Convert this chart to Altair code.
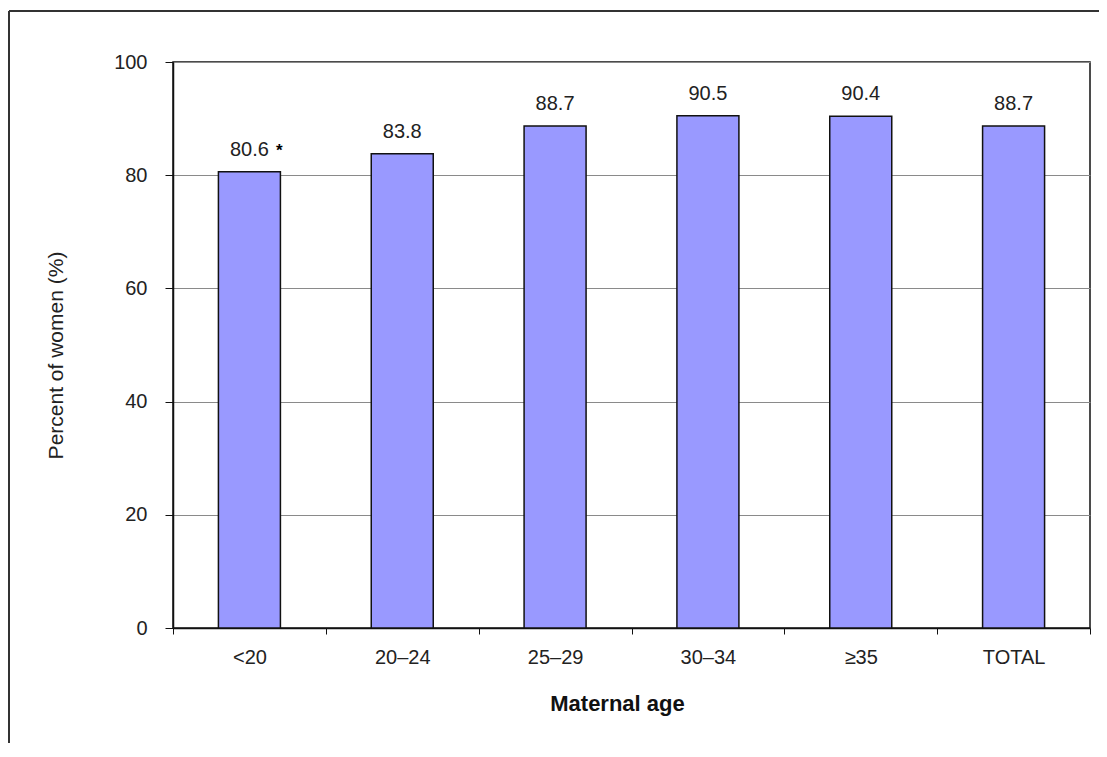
import altair as alt
import pandas as pd

categories = ["<20", "20–24", "25–29", "30–34", "≥35", "TOTAL"]
values = [80.6, 83.8, 88.7, 90.5, 90.4, 88.7]
labels = ["80.6", "83.8", "88.7", "90.5", "90.4", "88.7"]
notes = ["*", "", "", "", "", ""]

df = pd.DataFrame({"age": categories, "pct": values, "label": labels, "note": notes})

FONT = "Liberation Sans"

x_enc = alt.X(
    "age:N",
    sort=categories,
    scale=alt.Scale(paddingInner=0, paddingOuter=0),
    axis=alt.Axis(
        title="Maternal age",
        titleFont=FONT,
        titleFontSize=22,
        titleFontWeight="bold",
        titleColor="#111",
        titleX=444,
        titleY=75,
        titleBaseline="middle",
        titleAlign="center",
        labelFont=FONT,
        labelFontSize=20,
        labelColor="#222",
        labelAngle=0,
        labelPadding=13,
        tickBand="extent",
        tickSize=6,
        tickColor="#111",
        domainColor="#111",
        domainWidth=1.5,
        grid=False,
    ),
)
y_enc = alt.Y(
    "pct:Q",
    scale=alt.Scale(domain=[0, 100], nice=False),
    axis=alt.Axis(
        title="Percent of women (%)",
        titleFont=FONT,
        titleFontSize=21,
        titleFontWeight="normal",
        titleColor="#222",
        titleX=-117,
        titleY=293,
        titleAlign="center",
        titleBaseline="middle",
        titleAngle=-90,
        values=[0, 20, 40, 60, 80, 100],
        labelFont=FONT,
        labelFontSize=20,
        labelColor="#222",
        labelPadding=18,
        tickSize=8,
        tickColor="#111",
        domainColor="#111",
        domainWidth=1.5,
        gridColor="#8a8a8a",
        gridWidth=1,
    ),
)

base = alt.Chart(df)

bars = base.mark_bar(
    width=62, color="#9999FF", stroke="#111", strokeWidth=1.5
).encode(x=x_enc, y=y_enc)

text = base.mark_text(
    font=FONT, fontSize=20, color="#222", baseline="middle", dy=-22
).encode(x=alt.X("age:N", sort=categories), y="pct:Q", text="label:N")

note = base.transform_filter(alt.datum.note != "").mark_text(
    font=FONT, fontSize=17, fontWeight="bold", color="#000", baseline="middle", dx=30, dy=-21
).encode(x=alt.X("age:N", sort=categories), y="pct:Q", text="note:N")

frame_df = pd.DataFrame({"a": [0]})
frame_top = alt.Chart(frame_df).mark_rule(color="#333", strokeWidth=2).encode(
    x=alt.value(-164), x2=alt.value(940), y=alt.value(-51)
)
frame_left = alt.Chart(frame_df).mark_rule(color="#333", strokeWidth=2).encode(
    x=alt.value(-164), y=alt.value(-51), y2=alt.value(700)
)

chart = alt.layer(bars, text, note, frame_top, frame_left).properties(
    width=917,
    height=566,
    padding={"left": 165, "top": 54, "right": 9, "bottom": 115},
    autosize=alt.AutoSizeParams(type="none"),
    background="white",
).configure_view(stroke="#111", strokeWidth=1.5)

chart.save("out.html", embed_options={"renderer": "svg", "actions": False})
